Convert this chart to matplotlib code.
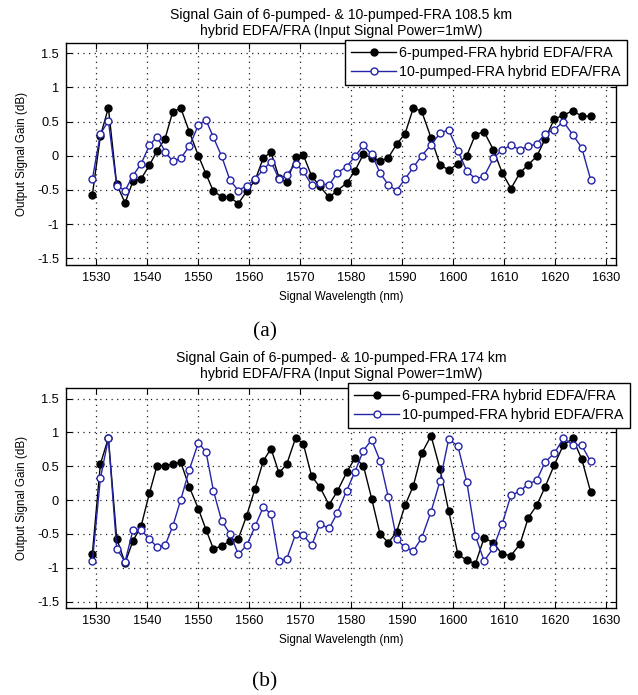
import matplotlib
matplotlib.use("Agg")
import matplotlib.pyplot as plt

plt.rcParams['font.family'] = ['Liberation Sans', 'DejaVu Sans']

# wavelengths (nm), same for all four series
wavelength = [1529.28, 1530.85, 1532.42, 1534.05, 1535.69, 1537.25, 1538.82, 1540.46,
              1541.96, 1543.53, 1545.03, 1546.60, 1548.30, 1550.07, 1551.57, 1553.01,
              1554.64, 1556.27, 1557.91, 1559.54, 1561.18, 1562.81, 1564.31, 1565.88,
              1567.39, 1569.15, 1570.65, 1572.29, 1573.92, 1575.69, 1577.32, 1579.15,
              1580.78, 1582.42, 1584.05, 1585.69, 1587.32, 1588.95, 1590.59, 1592.22,
              1593.86, 1595.70, 1597.45, 1599.15, 1600.95, 1602.70, 1604.40, 1606.10,
              1607.90, 1609.65, 1611.37, 1613.14, 1614.77, 1616.41, 1618.04, 1619.87,
              1621.63, 1623.46, 1625.23, 1626.99]

# (a) 108.5 km
gain6_a = [-0.57, 0.29, 0.70, -0.42, -0.69, -0.37, -0.34, -0.14, 0.07, 0.25,
           0.64, 0.70, 0.35, 0.00, -0.27, -0.52, -0.60, -0.61, -0.70, -0.52,
           -0.36, -0.03, 0.05, -0.32, -0.39, -0.02, 0.01, -0.30, -0.45, -0.61,
           -0.51, -0.40, -0.22, 0.02, -0.03, -0.08, -0.03, 0.17, 0.32, 0.70,
           0.65, 0.26, -0.13, -0.21, -0.12, 0.00, 0.31, 0.35, 0.09, -0.25,
           -0.48, -0.25, -0.13, -0.01, 0.24, 0.54, 0.59, 0.66, 0.58, 0.58]
gain10_a = [-0.34, 0.32, 0.51, -0.44, -0.51, -0.29, -0.12, 0.15, 0.28, 0.06,
            -0.08, -0.04, 0.14, 0.45, 0.52, 0.27, -0.01, -0.36, -0.51, -0.44,
            -0.34, -0.20, -0.09, -0.34, -0.28, -0.12, -0.23, -0.43, -0.40, -0.43,
            -0.25, -0.16, -0.01, 0.15, 0.02, -0.25, -0.43, -0.51, -0.34, -0.17,
            0.00, 0.16, 0.33, 0.38, 0.07, -0.22, -0.34, -0.30, -0.04, 0.09,
            0.15, 0.09, 0.14, 0.17, 0.32, 0.38, 0.50, 0.31, 0.12, -0.35]

# (b) 174 km
gain6_b = [-0.79, 0.53, 0.92, -0.57, -0.93, -0.60, -0.39, 0.10, 0.51, 0.51,
           0.53, 0.56, 0.19, -0.13, -0.44, -0.72, -0.68, -0.60, -0.57, -0.23,
           0.17, 0.58, 0.76, 0.40, 0.53, 0.92, 0.83, 0.35, 0.19, -0.07,
           0.13, 0.41, 0.62, 0.51, 0.02, -0.50, -0.63, -0.47, -0.08, 0.21,
           0.69, 0.95, 0.46, -0.16, -0.80, -0.89, -0.94, -0.56, -0.63, -0.80,
           -0.82, -0.65, -0.26, -0.08, 0.19, 0.52, 0.81, 0.91, 0.61, 0.12]
gain10_b = [-0.90, 0.32, 0.91, -0.72, -0.91, -0.44, -0.44, -0.58, -0.69, -0.67,
            -0.39, 0.00, 0.45, 0.85, 0.71, 0.14, -0.31, -0.50, -0.80, -0.67,
            -0.39, -0.10, -0.21, -0.90, -0.87, -0.50, -0.52, -0.67, -0.35, -0.42,
            -0.19, 0.14, 0.42, 0.73, 0.89, 0.58, 0.04, -0.58, -0.70, -0.75,
            -0.56, -0.17, 0.28, 0.90, 0.80, 0.27, -0.53, -0.90, -0.71, -0.35,
            0.07, 0.13, 0.24, 0.29, 0.56, 0.69, 0.91, 0.82, 0.81, 0.57]

labels = ['6-pumped-FRA hybrid EDFA/FRA', '10-pumped-FRA hybrid EDFA/FRA']
xticks = [1530, 1540, 1550, 1560, 1570, 1580, 1590, 1600, 1610, 1620, 1630]
yticks = [-1.5, -1, -0.5, 0, 0.5, 1, 1.5]
ytick_labels = ['-1.5', '-1', '-0.5', '0', '0.5', '1', '1.5']
blue = '#2424a8'

fig = plt.figure(figsize=(6.38, 6.95), dpi=100)
ax_a = fig.add_axes([0.1034, 0.6187, 0.8616, 0.3194])
ax_b = fig.add_axes([0.1034, 0.1247, 0.8616, 0.3165])


def draw_panel(ax, g6, g10, title, title_pad, leg_xy, caption, cap_y):
    ax.plot(wavelength, g6, '-o', color='black', lw=1, ms=5,
            mfc='black', mec='black', label=labels[0])
    ax.plot(wavelength, g10, '-o', color=blue, lw=1, ms=5,
            mfc='white', mec=blue, mew=1, label=labels[1])
    ax.set_xlim(1524.1, 1631.9)
    ax.set_ylim(-1.6, 1.65)
    ax.set_xticks(xticks)
    ax.set_yticks(yticks)
    ax.set_yticklabels(ytick_labels)
    ax.tick_params(direction='in', top=True, right=True, length=4,
                   labelsize=9.2, pad=5)
    ax.grid(True, color='#202020', linestyle=(0, (1, 3.5)), lw=0.9)
    for s in ax.spines.values():
        s.set_linewidth(1)
    ax.set_title(title, fontsize=10.1, pad=title_pad, linespacing=1.2)
    ax.set_xlabel('Signal Wavelength (nm)', fontsize=8.4)
    ax.xaxis.set_label_coords(0.5, -0.143)
    ax.xaxis.label.set_va('center')
    ax.set_ylabel('Output Signal Gain (dB)', fontsize=8.4)
    ax.yaxis.set_label_coords(-0.08, 0.5)
    ax.yaxis.label.set_va('center')
    leg = ax.legend(loc='upper left', bbox_to_anchor=leg_xy,
                    bbox_transform=fig.transFigure, borderaxespad=0,
                    fontsize=10.3, fancybox=False, framealpha=1,
                    edgecolor='black', handlelength=3.1, handletextpad=0.2,
                    labelspacing=0.3, borderpad=0.45)
    leg.get_frame().set_linewidth(1)
    fig.text(0.4154, cap_y, caption, family='Liberation Serif', fontsize=15.5,
             ha='center', va='center')


draw_panel(ax_a, gain6_a, gain10_a,
           'Signal Gain of 6-pumped- & 10-pumped-FRA 108.5 km\n'
           'hybrid EDFA/FRA (Input Signal Power=1mW)', 5.5,
           (0.5408, 0.9425), '(a)', 1 - 331.7 / 695)
draw_panel(ax_b, gain6_b, gain10_b,
           'Signal Gain of 6-pumped- & 10-pumped-FRA 174 km\n'
           'hybrid EDFA/FRA (Input Signal Power=1mW)', 7.5,
           (0.5455, 0.4490), '(b)', 1 - 681.7 / 695)

fig.savefig('out.png', dpi=100)
